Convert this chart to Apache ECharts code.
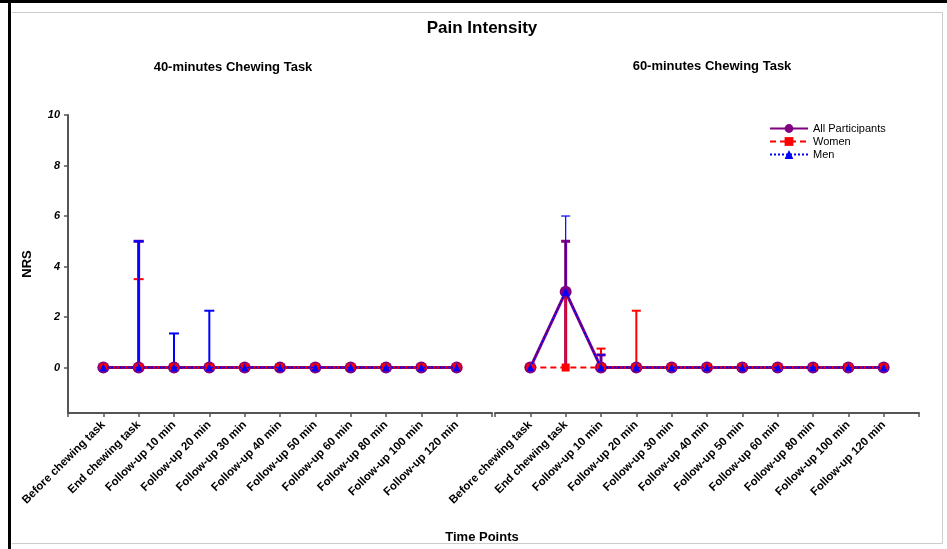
<!DOCTYPE html>
<html>
<head>
<meta charset="utf-8">
<script src="https://cdn.jsdelivr.net/npm/echarts@6/dist/echarts.min.js"></script>
<style>
  html, body { margin: 0; padding: 0; background: #fff; }
  #main { width: 947px; height: 549px; }
</style>
</head>
<body>
<div id="main"></div>
<script>
// time points (x = 1..11)
const categories = ['Before chewing task', 'End chewing task', 'Follow-up 10 min', 'Follow-up 20 min',
  'Follow-up 30 min', 'Follow-up 40 min', 'Follow-up 50 min', 'Follow-up 60 min',
  'Follow-up 80 min', 'Follow-up 100 min', 'Follow-up 120 min']
const yTicks = [0, 2, 4, 6, 8, 10]

// means, 40-minutes task
const all40 = [0, 0, 0, 0, 0, 0, 0, 0, 0, 0, 0]
const women40 = [0, 0, 0, 0, 0, 0, 0, 0, 0, 0, 0]
const men40 = [0, 0, 0, 0, 0, 0, 0, 0, 0, 0, 0]
// means, 60-minutes task
const all60 = [0, 3, 0, 0, 0, 0, 0, 0, 0, 0, 0]
const women60 = [0, 0, 0, 0, 0, 0, 0, 0, 0, 0, 0]
const men60 = [0, 3, 0, 0, 0, 0, 0, 0, 0, 0, 0]

// error bars: [time point index (0-based), low, high]
const errAll40 = [[1, 0, 5]]
const errWomen40 = [[1, 0, 3.5]]
const errMen40 = [[1, 0, 5], [2, 0, 1.35], [3, 0, 2.25]]
const errAll60 = [[1, 0, 5], [2, 0, 0.5]]
const errWomen60 = [[1, 0, 3], [2, 0, 0.75], [3, 0, 2.25]]
const errMen60 = [[1, 3, 6], [2, 0, 0.5]]

// significance mark
const starPoint = [[2, 8.9]]

const PURPLE = '#800080'
const RED = '#ff0000'
const BLUE = '#0000ff'
const FONT = 'Liberation Sans, Arial, sans-serif'

const toXY = arr => arr.map((v, i) => [i + 1, v])

function errSeries (name, data, gridIdx, color, width, cap) {
  return {
    name: name + ' err',
    type: 'custom',
    xAxisIndex: gridIdx,
    yAxisIndex: gridIdx,
    z: 1,
    silent: true,
    data: data.map(d => [d[0] + 1, d[1], d[2]]),
    renderItem (params, api) {
      const lo = api.coord([api.value(0), api.value(1)])
      const hi = api.coord([api.value(0), api.value(2)])
      const style = { stroke: color, lineWidth: width }
      return {
        type: 'group',
        children: [
          { type: 'line', shape: { x1: lo[0], y1: lo[1], x2: hi[0], y2: hi[1] }, style },
          { type: 'line', shape: { x1: hi[0] - cap / 2, y1: hi[1], x2: hi[0] + cap / 2, y2: hi[1] }, style }
        ]
      }
    }
  }
}

function meanSeries (gridIdx, all, women, men) {
  return [
    {
      name: 'All Participants', type: 'line', xAxisIndex: gridIdx, yAxisIndex: gridIdx, z: 3,
      data: toXY(all), symbol: 'circle', symbolSize: 12,
      itemStyle: { color: PURPLE }, lineStyle: { color: PURPLE, width: 3 }
    },
    {
      name: 'Women', type: 'line', xAxisIndex: gridIdx, yAxisIndex: gridIdx, z: 4,
      data: toXY(women), symbol: 'rect', symbolSize: 8,
      itemStyle: { color: RED }, lineStyle: { color: RED, width: 2, type: [6, 4] }
    },
    {
      name: 'Men', type: 'line', xAxisIndex: gridIdx, yAxisIndex: gridIdx, z: 5,
      data: toXY(men), symbol: 'triangle', symbolSize: 8,
      itemStyle: { color: BLUE }, lineStyle: { color: BLUE, width: 1.5, type: [2, 2] }
    }
  ]
}

function xAxis (gridIdx) {
  return {
    type: 'value', gridIndex: gridIdx, min: 0, max: 12, interval: 1,
    splitLine: { show: false },
    axisLine: { onZero: false, lineStyle: { color: '#555', width: 2 } },
    axisTick: { length: 4, lineStyle: { color: '#555', width: 1.5 } },
    axisLabel: {
      rotate: 45, margin: 10, color: '#000', fontFamily: FONT, fontSize: 11.5, fontWeight: 'bold',
      formatter: v => categories[v - 1] || ''
    }
  }
}

const chart = echarts.init(document.getElementById('main'))
chart.setOption({
  animation: false,
  backgroundColor: '#fff',
  title: [
    { text: 'Pain Intensity', left: 477, top: 15, textAlign: 'center',
      textStyle: { fontFamily: FONT, fontSize: 17, fontWeight: 'bold', color: '#000' } },
    { text: '40-minutes Chewing Task', left: 228, top: 56, textAlign: 'center',
      textStyle: { fontFamily: FONT, fontSize: 13, fontWeight: 'bold', color: '#000' } },
    { text: '60-minutes Chewing Task', left: 707, top: 55, textAlign: 'center',
      textStyle: { fontFamily: FONT, fontSize: 13, fontWeight: 'bold', color: '#000' } },
    { text: 'Time Points', left: 477, top: 526, textAlign: 'center',
      textStyle: { fontFamily: FONT, fontSize: 13, fontWeight: 'bold', color: '#000' } }
  ],
  legend: {
    data: ['All Participants', 'Women', 'Men'],
    orient: 'vertical', left: 764, top: 118, itemWidth: 38, itemHeight: 11, itemGap: 2,
    selectedMode: false,
    textStyle: { fontFamily: FONT, fontSize: 11, color: '#000' }
  },
  grid: [
    { left: 68, top: 115, width: 424, height: 298 },
    { left: 495, top: 115, width: 424, height: 298 }
  ],
  xAxis: [xAxis(0), xAxis(1)],
  yAxis: [
    {
      type: 'value', gridIndex: 0, min: -1.8, max: 10,
      splitLine: { show: false },
      axisLine: { show: true, lineStyle: { color: '#555', width: 2 } },
      axisTick: { show: true, length: 4, customValues: yTicks, lineStyle: { color: '#555', width: 1.5 } },
      axisLabel: {
        customValues: yTicks, margin: 8, color: '#000', fontFamily: FONT,
        fontSize: 11, fontWeight: 'bold', fontStyle: 'italic'
      },
      name: 'NRS', nameLocation: 'middle', nameGap: 34,
      nameTextStyle: { fontFamily: FONT, fontSize: 13, fontWeight: 'bold', color: '#000' }
    },
    { type: 'value', gridIndex: 1, min: -1.8, max: 10, show: false, splitLine: { show: false } }
  ],
  series: [
    errSeries('All Participants', errAll40, 0, PURPLE, 3, 10),
    errSeries('Women', errWomen40, 0, RED, 2, 10),
    errSeries('Men', errMen40, 0, BLUE, 2, 10),
    errSeries('All Participants', errAll60, 1, PURPLE, 3, 9),
    errSeries('Women', errWomen60, 1, RED, 2, 9),
    errSeries('Men', errMen60, 1, BLUE, 1.2, 9),
    ...meanSeries(0, all40, women40, men40),
    ...meanSeries(1, all60, women60, men60),
    {
      name: 'sig', type: 'scatter', xAxisIndex: 1, yAxisIndex: 1, symbol: 'none', silent: true,
      data: starPoint,
      label: {
        show: true, position: 'inside', formatter: '*', color: '#000',
        fontFamily: FONT, fontSize: 18, fontWeight: 'bold'
      }
    }
  ],
  graphic: [
    { type: 'line', shape: { x1: 0, y1: 1.5, x2: 947, y2: 1.5 }, style: { stroke: '#000', lineWidth: 3 } },
    { type: 'line', shape: { x1: 9.5, y1: 0, x2: 9.5, y2: 549 }, style: { stroke: '#000', lineWidth: 3 } },
    { type: 'polyline', shape: { points: [[12, 12.5], [942.5, 12.5], [942.5, 543.5], [12, 543.5]] },
      style: { stroke: '#ccc', lineWidth: 1, fill: null } }
  ]
})
</script>
</body>
</html>
